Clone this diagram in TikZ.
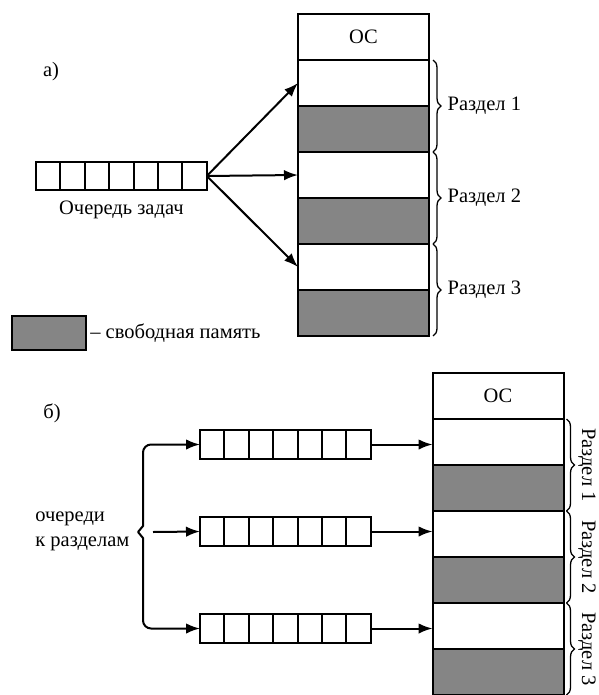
\documentclass[tikz,border=0pt]{standalone}
\usepackage{fontspec}
\setmainfont{Liberation Serif}
\usetikzlibrary{arrows.meta,decorations.pathreplacing,positioning}

\tikzset{
  cell/.style={draw, minimum width=24.4pt, minimum height=28.5pt, inner sep=0, outer sep=0},
  memrow/.style={draw, minimum width=131pt, minimum height=46pt, inner sep=0, outer sep=0},
  freemem/.style={memrow, fill=black!48},
  arr/.style={-{Latex[length=14pt,width=10.5pt]}},
  brc/.style={decorate, decoration={brace, amplitude=8pt}, line width=1.3pt},
}

\begin{document}
\begin{tikzpicture}[x=1pt, y=-1pt, line width=2pt, font=\rmfamily\fontsize{20.5}{25}\selectfont]
\useasboundingbox (0,0) rectangle (598,695);

\def \rowh {46}
\def \cellw {24.4}

% a) one queue for all partitions
\node (ta) at (51,72) {а)};
\foreach \i in {1,...,7}
  \node[cell] (qa-\i) at ({36+\cellw*(\i-0.5)},176) {};
\node[below=6pt of qa-4] (lqa) {Очередь задач};

\node[memrow] (ma-0) at (363.5,37) {ОС};
\foreach \k in {1,2,3}
{
  \node[memrow] (ma-\k-w) at (363.5,{37+\rowh*(2*\k-1)}) {};
  \node[freemem] (ma-\k-f) at (363.5,{37+\rowh*(2*\k)}) {};
  \draw[arr] (qa-7.east) -- (ma-\k-w.west);
  \draw[brc] ([xshift=4pt]ma-\k-w.north east) -- ([xshift=4pt]ma-\k-f.south east)
    node[midway, right=14pt, inner sep=0] (ra-\k) {Раздел \k};
}

% legend
\node[freemem, minimum width=74pt, minimum height=34pt] (lg) at (49,333) {};
\node[right=0pt of lg] (lgt) {– свободная память};

% b) separate queues
\node (tb) at (52,413) {б)};
\node[memrow] (mb-0) at (498,396) {ОС};
\foreach \r/\y in {1/444.5, 2/531.5, 3/628.5}
{
  \foreach \i in {1,...,7}
    \node[cell] (qb-\r-\i) at ({200+\cellw*(\i-0.5)},\y) {};
  \node[memrow] (mb-\r-w) at (498,{396+\rowh*(2*\r-1)}) {};
  \node[freemem] (mb-\r-f) at (498,{396+\rowh*(2*\r)}) {};
  \draw[arr] (qb-\r-7.east) -- (qb-\r-7.east -| mb-\r-w.west);
  \draw[brc] ([xshift=3pt]mb-\r-w.north east) -- ([xshift=3pt]mb-\r-f.south east);
  \node[rotate=-90] (rb-\r) at (587,{396+\rowh*(2*\r-0.5)}) {Раздел \r};
}

\coordinate (bt) at (138,532);
\coordinate (bm) at (153,532);
\draw[arr] (bt) -- ++(5,-6) [rounded corners=8pt] |- (qb-1-1.west);
\draw[arr] (bt) -- ++(5,6) [rounded corners=8pt] |- (qb-3-1.west);
\draw[arr] (bm) -- (qb-2-1.west);
\node[align=left, anchor=west] (lq) at (31,531) {очереди\\к разделам};

\end{tikzpicture}
\end{document}
